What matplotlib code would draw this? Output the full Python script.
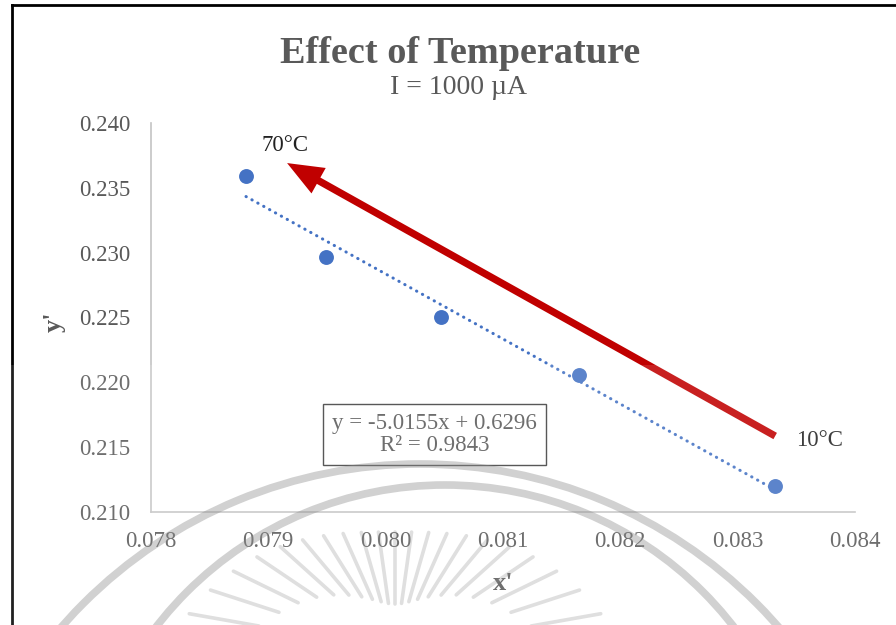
import numpy as np
import matplotlib
matplotlib.use("Agg")
import matplotlib.pyplot as plt
from matplotlib.patches import Arc, Rectangle
from matplotlib.lines import Line2D

plt.rcParams['font.family'] = ['Liberation Serif', 'DejaVu Serif']

# data
x_prime = [0.07881, 0.07949, 0.08047, 0.08165, 0.08332]
y_prime = [0.23591, 0.22966, 0.22504, 0.22057, 0.21200]
slope, intercept = -5.0155, 0.6296
r_squared = 0.9843
x_ticks = [0.078, 0.079, 0.080, 0.081, 0.082, 0.083, 0.084]
y_ticks = [0.210, 0.215, 0.220, 0.225, 0.230, 0.235, 0.240]
arrow_tail = (0.08332, 0.21586)
arrow_head = (0.07916, 0.23691)
temp_labels = ['70°C', '10°C']
temp_pos = [(0.07914, 0.23830), (0.08370, 0.21555)]

grey = '#595959'
blue = '#4472C4'
red = '#C00000'

fig = plt.figure(figsize=(8.96, 6.25), dpi=100)
ax = fig.add_axes([0.1685, 0.1808, 0.9542 - 0.1685, 0.8032 - 0.1808])

ax.scatter(x_prime, y_prime, s=115, color=blue, zorder=3, linewidths=0)
xt = np.array([min(x_prime), max(x_prime)])
ax.plot(xt, slope * xt + intercept, color=blue, lw=2.2,
        ls=(0, (0.1, 2.1)), dash_capstyle='round', zorder=2)

ax.annotate('', xy=arrow_head, xytext=arrow_tail,
            arrowprops=dict(arrowstyle='simple,head_length=2.6,head_width=2.1,tail_width=0.52',
                            mutation_scale=10, fc=red, ec='none', lw=0,
                            shrinkA=0, shrinkB=0), zorder=4)
for lab, (tx, ty) in zip(temp_labels, temp_pos):
    ax.text(tx, ty, lab, ha='center', va='center', fontsize=16.5, color='#222222')

ax.set_xlim(0.078, 0.084)
ax.set_ylim(0.210, 0.240)
ax.set_xticks(x_ticks)
ax.set_yticks(y_ticks)
ax.set_xticklabels([f'{v:.3f}' for v in x_ticks])
ax.set_yticklabels([f'{v:.3f}' for v in y_ticks])
ax.tick_params(length=0, labelsize=16.5, colors=grey)
ax.tick_params(axis='x', pad=14)
ax.tick_params(axis='y', pad=15)
for s in ['top', 'right']:
    ax.spines[s].set_visible(False)
for s in ['left', 'bottom']:
    ax.spines[s].set_color('#C4C4C4')
    ax.spines[s].set_linewidth(1.2)
ax.set_facecolor('none')

fig.text(434.5 / 896, 1 - 434.5 / 625,
         f'y = {slope}x + {intercept}\nR² = {r_squared}',
         ha='center', va='center', fontsize=16.5, color=grey, linespacing=1.05,
         bbox=dict(boxstyle='square,pad=0.38', fc='white', ec='#404040', lw=1))

fig.text(460 / 896, 1 - 63 / 625, 'Effect of Temperature', ha='center', va='baseline',
         fontsize=27.5, fontweight='bold', color=grey)
fig.text(458 / 896, 1 - 94 / 625, 'I = 1000 µA', ha='center', va='baseline',
         fontsize=20, color=grey)
fig.text(503 / 896, 1 - 583 / 625, "x'", ha='center', va='center',
         fontsize=19, fontweight='bold', color=grey)
fig.text(54 / 896, 1 - 322 / 625, "y'", ha='center', va='center', rotation=90,
         fontsize=19, fontweight='bold', color=grey)

# frame edges of the original screenshot
fig.add_artist(Line2D([12 / 896, 12 / 896], [0, 1 - 5 / 625], color='black', lw=2))
fig.add_artist(Line2D([12 / 896, 1], [1 - 5 / 625, 1 - 5 / 625], color='black', lw=2))

# faint seal watermark over the lower part
wm = fig.add_axes([0, 0, 1, 1], zorder=10)
wm.set_xlim(0, 896)
wm.set_ylim(625, 0)
wm.axis('off')
wm.patch.set_alpha(0)
wm.add_patch(Rectangle((0, 365), 896, 260, fc='white', ec='none', alpha=0.13))
wm.add_patch(Arc((420, 940), 952, 952, color='#8c8c8c', lw=5.5, alpha=0.4))
wm.add_patch(Arc((445, 850), 730, 730, color='#8c8c8c', lw=5.5, alpha=0.4))
cx, cy = 395, 650
for ang in np.arange(10, 171, 8):
    th = np.radians(ang)
    r0 = 118 + 110 * (1 - np.sin(th))
    r1 = r0 - 72
    wm.plot([cx + r0 * np.cos(th), cx + r1 * np.cos(th)],
            [cy - r0 * np.sin(th), cy - r1 * np.sin(th)],
            color='#8c8c8c', lw=2.6, alpha=0.28, solid_capstyle='round')

fig.savefig('out.png', dpi=100)
